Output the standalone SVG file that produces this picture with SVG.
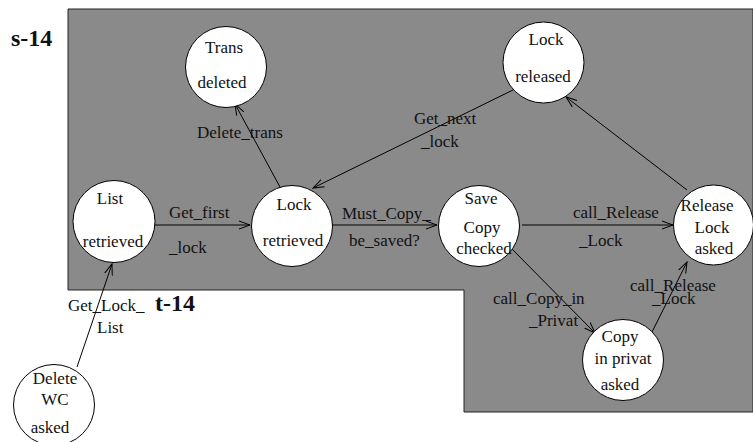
<svg xmlns="http://www.w3.org/2000/svg" width="753" height="442" viewBox="0 0 753 442">
<style>
text{font-family:"Liberation Serif","Times New Roman",serif;font-size:17px;fill:#111}
.n{text-anchor:middle}
.big{font-weight:bold;font-size:24px}
circle{fill:#fff;stroke:#000;stroke-width:1}
.e line{stroke:#000;stroke-width:1;fill:none}
</style>
<defs>
<marker id="ah" markerUnits="userSpaceOnUse" markerWidth="14" markerHeight="12" refX="11" refY="5" orient="auto">
<path d="M0,1 L11,5 L0,9" fill="none" stroke="#000" stroke-width="1"/>
</marker>
</defs>
<polygon points="68,9 753,9 753,412 464,412 464,290 68,290" fill="#8a8a8a" stroke="#222" stroke-width="1"/>
<text class="big" x="11" y="46">s-14</text>
<text class="big" x="155" y="311">t-14</text>
<g class="e" id="connectors">
<line x1="77" y1="367" x2="112" y2="264" marker-end="url(#ah)"/>
<line x1="155" y1="225" x2="250" y2="225" marker-end="url(#ah)"/>
<line x1="280" y1="187" x2="235" y2="104" marker-end="url(#ah)"/>
<line x1="513" y1="90" x2="313" y2="188" marker-end="url(#ah)"/>
<line x1="687" y1="190" x2="566" y2="97" marker-end="url(#ah)"/>
<line x1="332" y1="225" x2="437" y2="225" marker-end="url(#ah)"/>
<line x1="522" y1="225" x2="673" y2="225" marker-end="url(#ah)"/>
<line x1="511" y1="248" x2="595" y2="333" marker-end="url(#ah)"/>
<line x1="652" y1="332" x2="687" y2="262" marker-end="url(#ah)"/>
<text x="68" y="311">Get_Lock_</text>
<text x="97" y="333">List</text>
<text x="169" y="218">Get_first</text>
<text x="169" y="253">_lock</text>
<text x="197" y="138">Delete_trans</text>
<text x="414" y="124">Get_next</text>
<text x="421" y="147">_lock</text>
<text x="342" y="219">Must_Copy_</text>
<text x="349" y="246">be_saved?</text>
<text x="573" y="218">call_Release</text>
<text x="579" y="246">_Lock</text>
<text x="493" y="304">call_Copy_in</text>
<text x="529" y="326">_Privat</text>
<text x="630" y="291">call_Release</text>
<text x="652" y="304">_Lock</text>
</g>
<g id="trans_deleted"><circle cx="226" cy="67" r="40.5"/><text class="n" x="224" y="53">Trans</text><text class="n" x="222" y="88">deleted</text></g>
<g id="lock_released"><circle cx="543.5" cy="62.5" r="40.5"/><text class="n" x="546" y="45">Lock</text><text class="n" x="543" y="82">released</text></g>
<g id="list_retrieved"><circle cx="114" cy="221.5" r="41"/><text class="n" x="110" y="204">List</text><text class="n" x="113" y="247">retrieved</text></g>
<g id="lock_retrieved"><circle cx="292" cy="226" r="40.5"/><text class="n" x="294" y="210">Lock</text><text class="n" x="293" y="246">retrieved</text></g>
<g id="save_copy_checked"><circle cx="479" cy="226" r="40.5"/><text class="n" x="481" y="204">Save</text><text class="n" x="482" y="233">Copy</text><text class="n" x="484" y="254">checked</text></g>
<g id="release_lock_asked"><circle cx="713.5" cy="225" r="40"/><text class="n" x="707" y="211">Release</text><text class="n" x="712" y="233">Lock</text><text class="n" x="714" y="254">asked</text></g>
<g id="copy_in_privat_asked"><circle cx="623" cy="360" r="40.5"/><text class="n" x="620" y="342">Copy</text><text class="n" x="623" y="364">in privat</text><text class="n" x="620" y="390">asked</text></g>
<g id="delete_wc_asked"><circle cx="54" cy="405" r="40.5"/><text class="n" x="55" y="384">Delete</text><text class="n" x="55" y="405">WC</text><text class="n" x="50" y="433">asked</text></g>
</svg>
